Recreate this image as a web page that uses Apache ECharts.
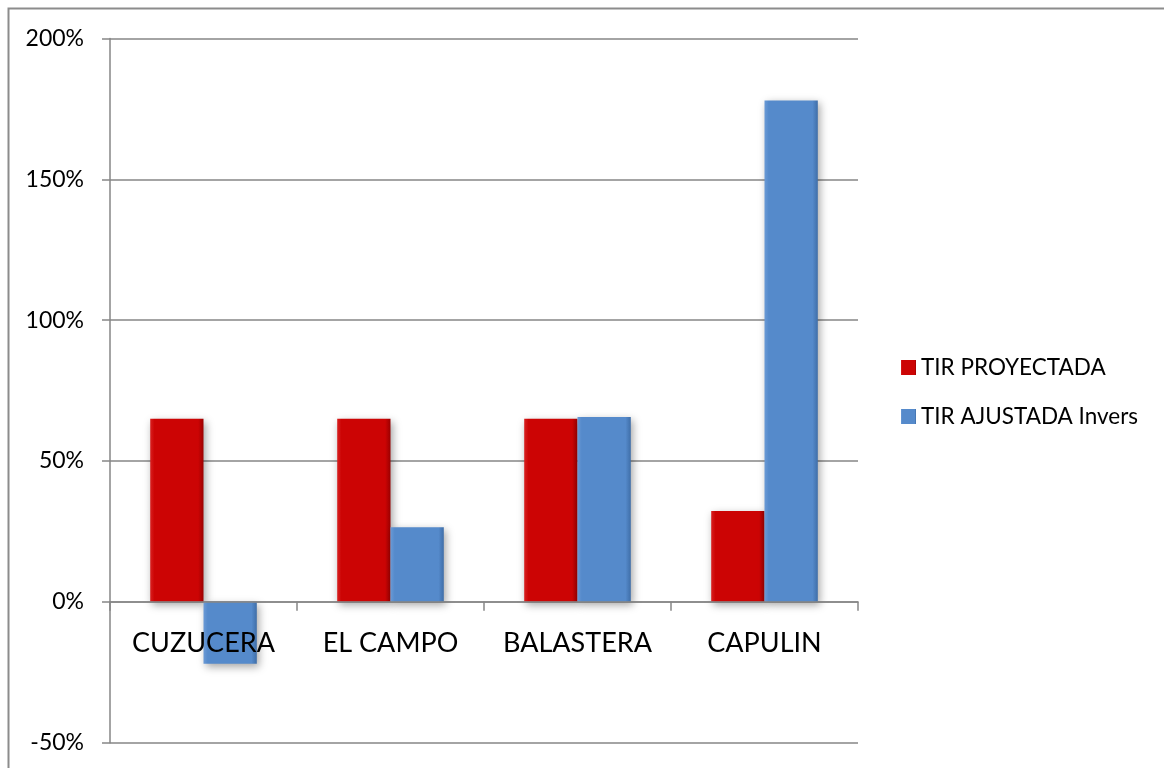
<!DOCTYPE html>
<html>
<head>
<meta charset="utf-8">
<script src="https://cdn.jsdelivr.net/npm/echarts@6/dist/echarts.min.js"></script>
<style>
  html, body { margin: 0; padding: 0; background: #fff; }
  #chart { width: 1164px; height: 768px; }
</style>
</head>
<body>
<div id="chart"></div>
<script>
// Project names along the category axis
const categories = ['CUZUCERA', 'EL CAMPO', 'BALASTERA', 'CAPULIN'];
// Internal rate of return, in percent
const tirProyectada = [65, 65, 65, 32.3];
const tirAjustada = [-22, 26.5, 65.6, 178];
const seriesNames = ['TIR PROYECTADA', 'TIR AJUSTADA Invers'];
// Value axis range and step, in percent
const yMin = -50, yMax = 200, yStep = 50;

const FONT = 'Lato, "Open Sans", sans-serif';
const GRID_TOP = 38.5, GRID_BOTTOM = 25.3, CHART_H = 768;

function bevel(dark, base, light) {
  return {
    type: 'linear', x: 0, y: 0, x2: 1, y2: 0,
    colorStops: [
      { offset: 0, color: light },
      { offset: 0.08, color: base },
      { offset: 0.9, color: base },
      { offset: 1, color: dark }
    ]
  };
}

const redFill = bevel('#9a0000', '#cc0404', '#d82020');
const blueFill = bevel('#3f6ea8', '#558acb', '#6a9ad6');

// The category axis sits on the zero line: shift it up from the grid bottom
const plotH = CHART_H - GRID_TOP - GRID_BOTTOM;
const zeroShift = plotH * (0 - yMin) / (yMax - yMin);

const chart = echarts.init(document.getElementById('chart'), null, { renderer: 'canvas' });

chart.setOption({
  animation: false,
  backgroundColor: '#ffffff',
  graphic: [{
    type: 'polyline',
    shape: { points: [[8.5, 768], [8.5, 8.5], [1164, 8.5]] },
    style: { stroke: '#8c8c8c', lineWidth: 2, fill: null }
  }],
  grid: { left: 110, right: 306, top: GRID_TOP, bottom: GRID_BOTTOM, containLabel: false, outerBoundsMode: 'none' },
  legend: {
    orient: 'vertical',
    left: 896,
    top: 351,
    itemWidth: 15,
    itemHeight: 15,
    itemGap: 26,
    icon: 'rect',
    textStyle: { fontFamily: FONT, fontSize: 22.5, color: '#000' },
    data: seriesNames
  },
  xAxis: {
    type: 'category',
    data: categories,
    position: 'bottom',
    offset: -zeroShift,
    z: 5,
    axisLine: { onZero: false, lineStyle: { color: '#868686', width: 1.5 } },
    axisTick: { show: true, length: 9, lineStyle: { color: '#868686', width: 1.5 } },
    axisLabel: { fontFamily: FONT, fontSize: 27, color: '#000', margin: 28, interval: 0 },
    splitLine: { show: false }
  },
  yAxis: {
    type: 'value',
    min: yMin, max: yMax, interval: yStep,
    axisLine: { show: true, lineStyle: { color: '#868686', width: 1.5 } },
    axisTick: { show: true, length: 8, lineStyle: { color: '#868686', width: 1.5 } },
    axisLabel: { fontFamily: FONT, fontSize: 23, color: '#000', margin: 26, formatter: '{value}%' },
    splitLine: { show: true, lineStyle: { color: '#868686', width: 1.5 } }
  },
  series: [
    {
      name: seriesNames[0], type: 'bar', data: tirProyectada,
      barGap: '0%', barCategoryGap: '43%',
      itemStyle: {
        color: redFill,
        shadowColor: 'rgba(0,0,0,0.35)', shadowBlur: 8, shadowOffsetX: 2, shadowOffsetY: 3
      }
    },
    {
      name: seriesNames[1], type: 'bar', data: tirAjustada,
      barGap: '0%', barCategoryGap: '43%',
      z: 3,
      itemStyle: {
        color: blueFill,
        shadowColor: 'rgba(0,0,0,0.35)', shadowBlur: 8, shadowOffsetX: 2, shadowOffsetY: 3
      }
    }
  ]
});
</script>
</body>
</html>
